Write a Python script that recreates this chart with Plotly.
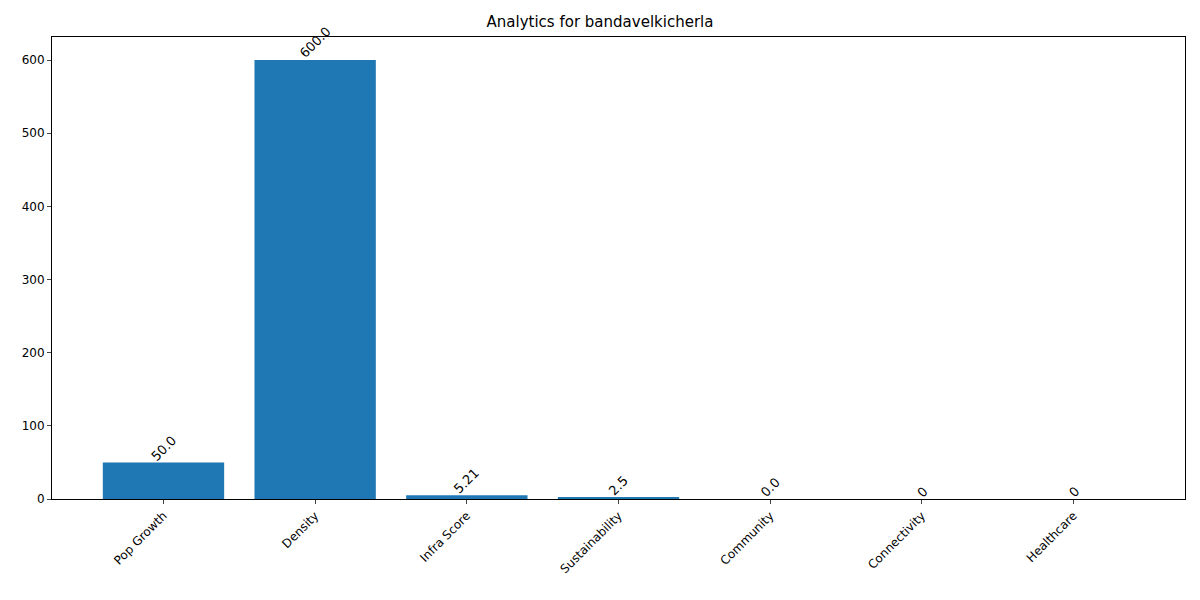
import plotly.graph_objects as go

categories = ["Pop Growth", "Density", "Infra Score", "Sustainability",
              "Community", "Connectivity", "Healthcare"]
values = [50.0, 600.0, 5.21, 2.5, 0.0, 0, 0]
labels = ["50.0", "600.0", "5.21", "2.5", "0.0", "0", "0"]

x = list(range(len(categories)))

fig = go.Figure()
fig.add_trace(go.Bar(
    x=x, y=values, width=0.8,
    marker=dict(color="#1f77b4", line=dict(width=0)),
    showlegend=False, hoverinfo="y",
))

for xi, v, t in zip(x, values, labels):
    fig.add_annotation(x=xi, y=v, text=t, textangle=-45, showarrow=False,
                       xanchor="center", yanchor="bottom", yshift=-4,
                       font=dict(size=13, color="black"))

# page body adds ~8px offset, so figure is sized to fit the window
fig.update_layout(
    width=1184, height=584,
    paper_bgcolor="white", plot_bgcolor="white",
    margin=dict(l=44, r=7, t=29, b=93),
    font=dict(family="DejaVu Sans", size=12, color="black"),
    title=dict(text="Analytics for bandavelkicherla", x=0.5, xanchor="center",
               y=0.976, yanchor="middle", font=dict(size=15)),
)
fig.update_xaxes(
    range=[-0.735, 6.735], tickmode="array", tickvals=x, ticktext=categories,
    tickangle=-45, showline=True, linecolor="black", mirror=True,
    ticks="outside", ticklen=4, showgrid=False, zeroline=False,
)
fig.update_yaxes(
    range=[0, 631.5], tickvals=[0, 100, 200, 300, 400, 500, 600],
    showline=True, linecolor="black", mirror=True,
    ticks="outside", ticklen=4, showgrid=False, zeroline=False,
)

fig.write_html("out.html")
